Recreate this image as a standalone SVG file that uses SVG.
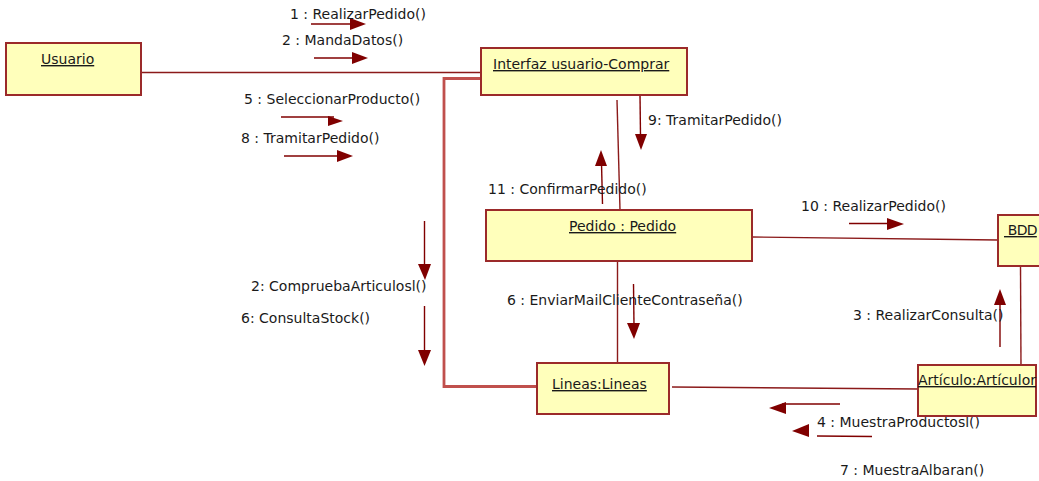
<svg xmlns="http://www.w3.org/2000/svg" width="1039" height="481" viewBox="0 0 1039 481">
<style>
.box{fill:#ffffbb;stroke:#9b2a2a;stroke-width:2}
.lbl{font-family:"DejaVu Sans",Verdana,sans-serif;font-size:14px;fill:#1a1a1a}
.nm{text-decoration:underline}
.con{stroke:#8b1a1a;stroke-width:1.4;fill:none}
.msg{stroke:#800000;stroke-width:1.4;fill:none}
.ah{fill:#800000;stroke:none}
.thick{stroke:#c0504d;stroke-width:2.8;fill:none}
</style>
<rect width="1039" height="481" fill="#ffffff"/>
<g id="connectors">
<line class="con" x1="141" y1="72.5" x2="481" y2="72.5"/>
<line class="con" x1="617" y1="100" x2="620" y2="210"/>
<line class="con" x1="752" y1="237" x2="998" y2="240"/>
<line class="con" x1="617.5" y1="261" x2="617.5" y2="365"/>
<line class="con" x1="672" y1="387" x2="918" y2="389"/>
<line class="con" x1="1020.5" y1="266" x2="1021" y2="368"/>
<path class="thick" d="M493,78.5 H444 V386.5 H537"/>
</g>
<g id="messages">
<line class="msg" x1="311" y1="24" x2="352" y2="24"/>
<polygon class="ah" points="350,18 366,24 350,30"/>
<text class="lbl" x="290" y="19">1 : RealizarPedido()</text>
<line class="msg" x1="314" y1="58" x2="354" y2="58"/>
<polygon class="ah" points="352,52 368,58 352,64"/>
<text class="lbl" x="282" y="45">2 : MandaDatos()</text>
<line class="msg" x1="281" y1="117" x2="334" y2="117"/>
<polygon class="ah" points="328,116 343,121 328,126"/>
<text class="lbl" x="244" y="104">5 : SeleccionarProducto()</text>
<line class="msg" x1="284" y1="156" x2="339" y2="156"/>
<polygon class="ah" points="337,150 353,156 337,162"/>
<text class="lbl" x="241" y="143">8 : TramitarPedido()</text>
<line class="msg" x1="640" y1="95" x2="640.5" y2="136"/>
<polygon class="ah" points="635,134 647,134 641,150"/>
<text class="lbl" x="648" y="125">9: TramitarPedido()</text>
<line class="msg" x1="602.5" y1="204" x2="601.5" y2="163"/>
<polygon class="ah" points="595,166 607,166 601,150"/>
<text class="lbl" x="488" y="194">11 : ConfirmarPedido()</text>
<line class="msg" x1="849" y1="223.5" x2="890" y2="223.5"/>
<polygon class="ah" points="887,218 904,224 887,230"/>
<text class="lbl" x="801" y="211">10 : RealizarPedido()</text>
<line class="msg" x1="633.5" y1="284" x2="634" y2="326"/>
<polygon class="ah" points="627,323 640,323 634,339"/>
<text class="lbl" x="507" y="305">6 : EnviarMailClienteContraseña()</text>
<line class="msg" x1="424.5" y1="221" x2="424.5" y2="266"/>
<polygon class="ah" points="418,264 431,264 425,280"/>
<text class="lbl" x="251" y="291">2: CompruebaArticulosl()</text>
<line class="msg" x1="424.5" y1="306" x2="424.5" y2="352"/>
<polygon class="ah" points="418,350 431,350 424.5,366"/>
<text class="lbl" x="241" y="323">6: ConsultaStock()</text>
<line class="msg" x1="1000" y1="347" x2="1000" y2="303"/>
<polygon class="ah" points="994,305 1006,305 1000,289"/>
<text class="lbl" x="853" y="320">3 : RealizarConsulta()</text>
<line class="msg" x1="840" y1="404" x2="782" y2="404"/>
<polygon class="ah" points="786,402 769,408 786,414"/>
<text class="lbl" x="817" y="427">4 : MuestraProductosl()</text>
<line class="msg" x1="872" y1="436.5" x2="817" y2="436"/>
<polygon class="ah" points="809,424 792,431 809,437"/>
<text class="lbl" x="840" y="475">7 : MuestraAlbaran()</text>
</g>
<g id="usuario">
<rect class="box" x="6" y="43" width="135" height="52"/>
<text class="lbl nm" x="41" y="64">Usuario</text>
</g>
<g id="interfaz">
<rect class="box" x="481" y="48" width="206" height="47"/>
<text class="lbl nm" x="493" y="69">Interfaz usuario-Comprar</text>
</g>
<g id="pedido">
<rect class="box" x="486" y="210" width="266" height="51"/>
<text class="lbl nm" x="569" y="231">Pedido : Pedido</text>
</g>
<g id="bdd">
<rect class="box" x="998" y="215" width="60" height="51"/>
<text class="lbl nm" x="1004" y="235" letter-spacing="-0.7" xml:space="preserve"> BDD</text>
</g>
<g id="lineas">
<rect class="box" x="537" y="363" width="132" height="51"/>
<text class="lbl nm" x="552" y="389">Lineas:Lineas</text>
</g>
<g id="articulo">
<rect class="box" x="918" y="365" width="118" height="51"/>
<text class="lbl nm" x="918" y="385">Artículo:Artículor</text>
</g>
</svg>
